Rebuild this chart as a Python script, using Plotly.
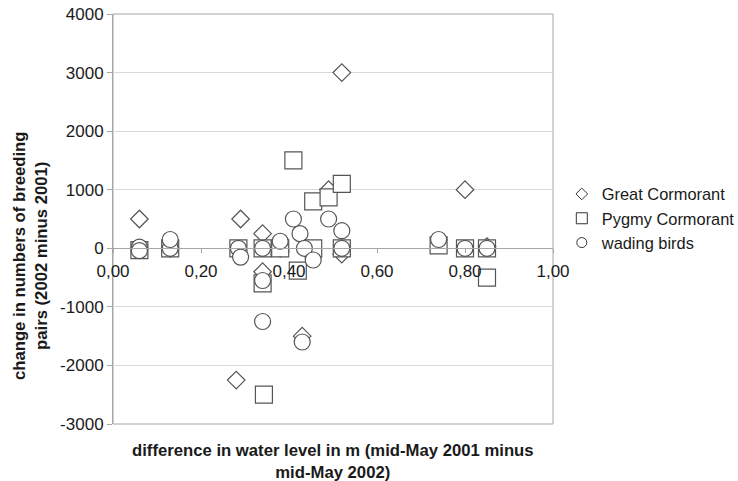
import plotly.graph_objects as go

# Great Cormorant (diamonds)
gc_x = [0.06, 0.29, 0.34, 0.34, 0.28, 0.43, 0.52, 0.49, 0.52, 0.80, 0.13, 0.38, 0.85, 0.06]
gc_y = [500, 500, 250, -400, -2250, -1500, 3000, 1000, -100, 1000, 0, 0, 30, 0]

# Pygmy Cormorant (squares)
pc_x = [0.06, 0.13, 0.285, 0.34, 0.34, 0.343, 0.41, 0.455, 0.49, 0.52, 0.42, 0.455, 0.38, 0.52, 0.74, 0.80, 0.85, 0.85]
pc_y = [-30, 0, 0, 0, -600, -2500, 1500, 800, 870, 1100, -380, 0, 0, 0, 50, 0, 0, -500]

# wading birds (circles)
wb_x = [0.06, 0.06, 0.13, 0.13, 0.285, 0.29, 0.34, 0.34, 0.34, 0.38, 0.41, 0.425, 0.435, 0.455, 0.49, 0.52, 0.52, 0.43, 0.74, 0.80, 0.85]
wb_y = [20, -40, 0, 150, 0, -150, 0, -550, -1250, 120, 500, 250, 0, -200, 500, 300, 0, -1600, 150, 0, 0]

series_names = ["Great Cormorant", "Pygmy Cormorant", "wading birds"]
x_ticks = [0, 0.2, 0.4, 0.6, 0.8, 1.0]
y_ticks = [-3000, -2000, -1000, 0, 1000, 2000, 3000, 4000]
y_ticktext = [str(v) for v in y_ticks]

FONT = "Liberation Sans, Arial, sans-serif"
EDGE = "#555555"
GRID = "#d9d9d9"
AXIS = "#a6a6a6"
TXT = "#1a1a1a"
FS_TICK = 17
FS_TITLE = 16.7
FS_LEG = 16.4

fig = go.Figure()
specs = [(gc_x, gc_y, "diamond", 13.5), (pc_x, pc_y, "square", 17), (wb_x, wb_y, "circle", 16)]
leg_sizes = [9, 11, 10]
for (xs, ys, sym, sz), name in zip(specs, series_names):
    fig.add_trace(go.Scatter(
        x=xs, y=ys, mode="markers", name=name, showlegend=False,
        marker=dict(symbol=sym, size=sz, color="white", line=dict(color=EDGE, width=1.2)),
    ))
for (xs, ys, sym, sz), name, ls in zip(specs, series_names, leg_sizes):
    fig.add_trace(go.Scatter(
        x=[None], y=[None], mode="markers", name=name, showlegend=True,
        marker=dict(symbol=sym, size=ls, color="white", line=dict(color="#333333", width=1)),
    ))

fig.update_layout(
    width=738, height=481,
    margin=dict(l=113, r=185, t=14, b=57, autoexpand=False),
    paper_bgcolor="white", plot_bgcolor="white",
    separators=",.",
    font=dict(family=FONT, size=FS_TICK, color=TXT),
    xaxis=dict(
        range=[0, 1], tickvals=x_ticks, tickformat=".2f",
        anchor="free", position=3/7,
        showgrid=False, zeroline=False,
        showline=True, linecolor=AXIS, linewidth=1,
        ticks="outside", ticklen=4, tickcolor=AXIS, ticklabelstandoff=3,
        tickfont=dict(size=FS_TICK, family=FONT, color=TXT),
    ),
    yaxis=dict(
        range=[-3000, 4000], tickvals=y_ticks, ticktext=y_ticktext,
        showgrid=True, gridcolor=GRID, gridwidth=1, zeroline=False,
        showline=True, linecolor=AXIS, linewidth=1,
        ticks="outside", ticklen=5, tickcolor=AXIS,
        tickfont=dict(size=FS_TICK, family=FONT, color=TXT),
    ),
    legend=dict(
        x=1.02, y=0.603, xanchor="left", yanchor="top",
        font=dict(size=FS_LEG, family=FONT, color=TXT),
        itemwidth=30, tracegroupgap=0, bgcolor="rgba(0,0,0,0)",
    ),
    shapes=[dict(type="rect", xref="paper", yref="paper", x0=0, y0=0, x1=1, y1=1,
                 line=dict(color=AXIS, width=1), layer="below")],
    annotations=[
        dict(text="<b>change in numbers of breeding<br>pairs (2002 minus 2001)</b>",
             xref="paper", yref="paper", x=-0.186, y=0.41, textangle=-90,
             showarrow=False, xanchor="center", yanchor="middle",
             font=dict(size=FS_TITLE, family=FONT, color=TXT)),
        dict(text="<b>difference in water level in m (mid-May 2001 minus<br>mid-May 2002)</b>",
             xref="paper", yref="paper", x=0.5, y=-0.092, yanchor="middle", xanchor="center",
             showarrow=False, font=dict(size=FS_TITLE, family=FONT, color=TXT)),
    ],
)

fig.write_html("out.html")
